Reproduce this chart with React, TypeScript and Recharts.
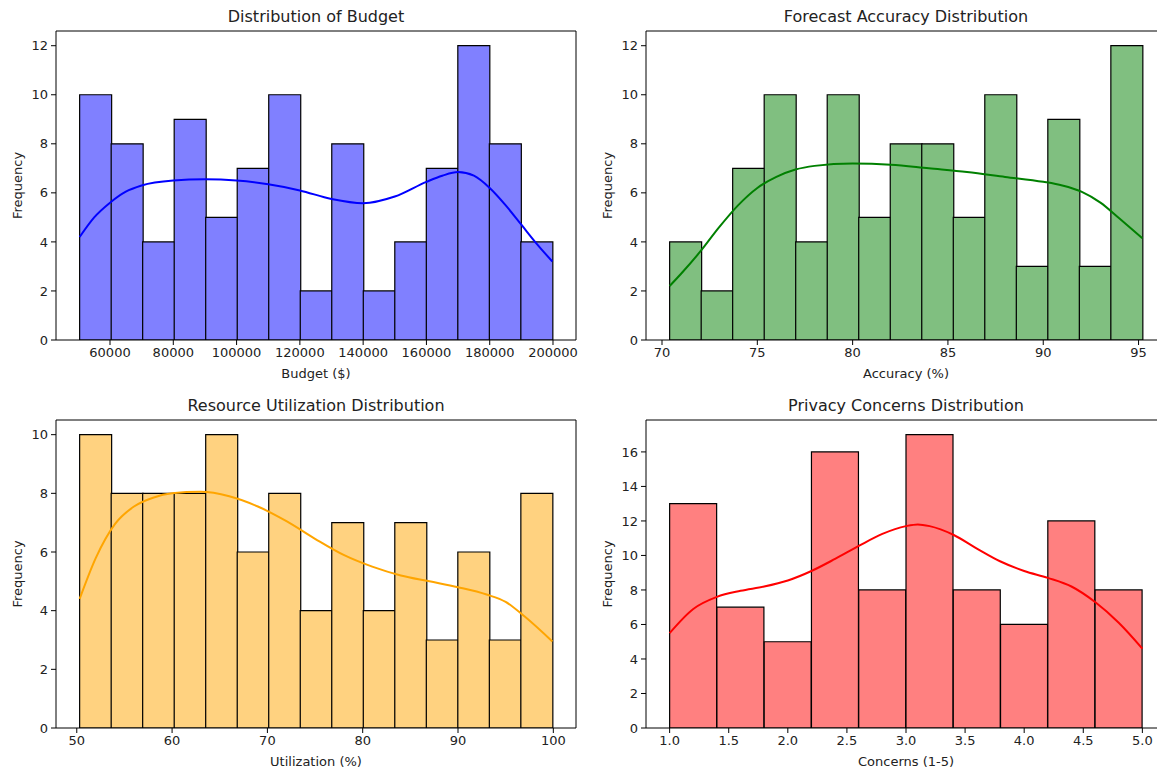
import { ComposedChart, Bar, Line, XAxis, YAxis } from "recharts";

// histogram counts per bin
const budgetCounts = [10, 8, 4, 9, 5, 7, 10, 2, 8, 2, 4, 7, 12, 8, 4];
const budgetRange = [50400, 199800];
const budgetTicks = [60000, 80000, 100000, 120000, 140000, 160000, 180000, 200000];
const budgetKdeX = [50400, 55000, 60000, 65000, 70000, 80000, 90000, 100000, 110000, 120000, 130000, 140000, 150000, 160000, 165000, 170000, 175000, 180000, 185000, 190000, 195000, 199800];
const budgetKdeY = [4.2, 5.0, 5.6, 6.05, 6.3, 6.5, 6.55, 6.5, 6.35, 6.1, 5.75, 5.58, 5.85, 6.45, 6.7, 6.85, 6.7, 6.2, 5.5, 4.7, 3.9, 3.2];

const accuracyCounts = [4, 2, 7, 10, 4, 10, 5, 8, 8, 5, 10, 3, 9, 3, 12];
const accuracyRange = [70.4, 95.2];
const accuracyTicks = [70, 75, 80, 85, 90, 95];
const accuracyKdeX = [70.4, 71, 72, 73, 74, 75, 76, 77, 78, 80, 82, 84, 86, 88, 90, 91, 92, 93, 94, 95.2];
const accuracyKdeY = [2.2, 2.7, 3.6, 4.6, 5.5, 6.2, 6.65, 6.95, 7.1, 7.2, 7.15, 7.0, 6.85, 6.65, 6.45, 6.3, 6.05, 5.6, 4.95, 4.15];

const utilCounts = [10, 8, 8, 8, 10, 6, 8, 4, 7, 4, 7, 3, 6, 3, 8];
const utilRange = [50.3, 99.9];
const utilTicks = [50, 60, 70, 80, 90, 100];
const utilKdeX = [50.3, 52, 54, 56, 58, 60, 63, 66, 69, 72, 75, 78, 81, 84, 87, 90, 93, 95, 97, 99.9];
const utilKdeY = [4.4, 5.8, 6.95, 7.55, 7.85, 8.0, 8.05, 7.9, 7.55, 7.05, 6.45, 5.9, 5.5, 5.2, 5.0, 4.8, 4.55, 4.3, 3.8, 2.95];

const privacyCounts = [13, 7, 5, 16, 8, 17, 8, 6, 12, 8];
const privacyRange = [1.0, 5.0];
const privacyTicks = [1.0, 1.5, 2.0, 2.5, 3.0, 3.5, 4.0, 4.5, 5.0];
const privacyKdeX = [1.0, 1.2, 1.4, 1.6, 1.8, 2.0, 2.2, 2.4, 2.6, 2.8, 3.0, 3.1, 3.2, 3.4, 3.6, 3.8, 4.0, 4.2, 4.4, 4.6, 4.8, 5.0];
const privacyKdeY = [5.5, 6.9, 7.6, 7.95, 8.2, 8.55, 9.1, 9.8, 10.55, 11.25, 11.7, 11.8, 11.7, 11.2, 10.4, 9.65, 9.1, 8.7, 8.2, 7.3, 6.1, 4.6];

const TEXT = "#222";

interface PanelProps {
  left: number;
  top: number;
  plotH: number;
  title: string;
  xLabel: string;
  counts: number[];
  range: number[];
  ticks: number[];
  yTicks: number[];
  kdeX: number[];
  kdeY: number[];
  fill: string;
  line: string;
  fmt?: (v: number) => string;
}

function Panel({ left, top, plotH, title, xLabel, counts, range, ticks, yTicks, kdeX, kdeY, fill, line, fmt }: PanelProps) {
  const W = 600;
  const margin = { top: 30, right: 23, bottom: 0, left: 12 };
  const yw = 44;
  const xh = 44;
  const H = margin.top + 1 + plotH + xh;
  const plotW = W - margin.left - yw - margin.right - 1;
  // matplotlib puts 5% of the data span on each side
  const pad = (plotW * 0.05) / 1.1;
  const span = range[1] - range[0];
  const domain = [range[0] - 0.05 * span, range[1] + 0.05 * span];
  const yMax = Math.max(...counts) * 1.05;

  const bins = counts.map((c, i) => ({ bin: i, count: c }));
  const kde = kdeX.map((x, i) => ({ x, y: kdeY[i] }));

  return (
    <div style={{ position: "absolute", left, top, width: W, height: H }}>
      <div
        style={{
          position: "absolute",
          left: margin.left + yw,
          width: plotW,
          top: 8,
          lineHeight: "18px",
          textAlign: "center",
          fontSize: 16,
          color: TEXT,
        }}
      >
        {title}
      </div>
      <ComposedChart width={W} height={H} data={bins} margin={margin} barCategoryGap={0} barGap={0}>
        {/* category axis for the bins, drawn on top as the upper frame line */}
        <XAxis
          xAxisId="bin"
          dataKey="bin"
          type="category"
          orientation="top"
          height={1}
          tick={false}
          tickLine={false}
          axisLine={{ stroke: "#000" }}
          padding={{ left: pad, right: pad }}
        />
        <XAxis
          xAxisId="num"
          type="number"
          dataKey="x"
          domain={domain}
          ticks={ticks}
          allowDataOverflow
          height={xh}
          interval={0}
          tickSize={5}
          tickMargin={3}
          tickFormatter={fmt}
          axisLine={{ stroke: "#000" }}
          tickLine={{ stroke: "#000" }}
          tick={{ fill: TEXT, fontSize: 13 }}
          label={{ value: xLabel, position: "insideBottom", offset: 6, fill: TEXT, fontSize: 13 }}
        />
        <YAxis
          yAxisId="l"
          type="number"
          domain={[0, yMax]}
          ticks={yTicks}
          allowDataOverflow
          width={yw}
          interval={0}
          tickSize={5}
          tickMargin={3}
          axisLine={{ stroke: "#000" }}
          tickLine={{ stroke: "#000" }}
          tick={{ fill: TEXT, fontSize: 13 }}
          label={{
            value: "Frequency",
            angle: -90,
            position: "insideLeft",
            offset: 5,
            fill: TEXT,
            fontSize: 13,
            style: { textAnchor: "middle" },
          }}
        />
        <YAxis
          yAxisId="r"
          orientation="right"
          type="number"
          domain={[0, yMax]}
          allowDataOverflow
          width={1}
          tick={false}
          tickLine={false}
          axisLine={{ stroke: "#000" }}
        />
        <Bar
          xAxisId="bin"
          yAxisId="l"
          dataKey="count"
          fill={fill}
          stroke="#000"
          strokeWidth={1.2}
          isAnimationActive={false}
        />
        <Line
          xAxisId="num"
          yAxisId="r"
          data={kde}
          dataKey="y"
          type="monotone"
          dot={false}
          stroke={line}
          strokeWidth={2}
          isAnimationActive={false}
        />
      </ComposedChart>
    </div>
  );
}

export default function App() {
  return (
    <div
      style={{
        position: "absolute",
        left: 0,
        top: 0,
        width: 1157,
        height: 768,
        overflow: "hidden",
        background: "#fff",
        fontFamily: "'DejaVu Sans', sans-serif",
      }}
    >
      <Panel
        left={0}
        top={0}
        plotH={309}
        title="Distribution of Budget"
        xLabel="Budget ($)"
        counts={budgetCounts}
        range={budgetRange}
        ticks={budgetTicks}
        yTicks={[0, 2, 4, 6, 8, 10, 12]}
        kdeX={budgetKdeX}
        kdeY={budgetKdeY}
        fill="#8080ff"
        line="#0000ff"
      />
      <Panel
        left={590}
        top={0}
        plotH={309}
        title="Forecast Accuracy Distribution"
        xLabel="Accuracy (%)"
        counts={accuracyCounts}
        range={accuracyRange}
        ticks={accuracyTicks}
        yTicks={[0, 2, 4, 6, 8, 10, 12]}
        kdeX={accuracyKdeX}
        kdeY={accuracyKdeY}
        fill="#80bf80"
        line="#008000"
      />
      <Panel
        left={0}
        top={389}
        plotH={308}
        title="Resource Utilization Distribution"
        xLabel="Utilization (%)"
        counts={utilCounts}
        range={utilRange}
        ticks={utilTicks}
        yTicks={[0, 2, 4, 6, 8, 10]}
        kdeX={utilKdeX}
        kdeY={utilKdeY}
        fill="#ffd280"
        line="#ffa500"
      />
      <Panel
        left={590}
        top={389}
        plotH={308}
        title="Privacy Concerns Distribution"
        xLabel="Concerns (1-5)"
        counts={privacyCounts}
        range={privacyRange}
        ticks={privacyTicks}
        yTicks={[0, 2, 4, 6, 8, 10, 12, 14, 16]}
        kdeX={privacyKdeX}
        kdeY={privacyKdeY}
        fill="#ff8080"
        line="#ff0000"
        fmt={(v) => v.toFixed(1)}
      />
    </div>
  );
}
